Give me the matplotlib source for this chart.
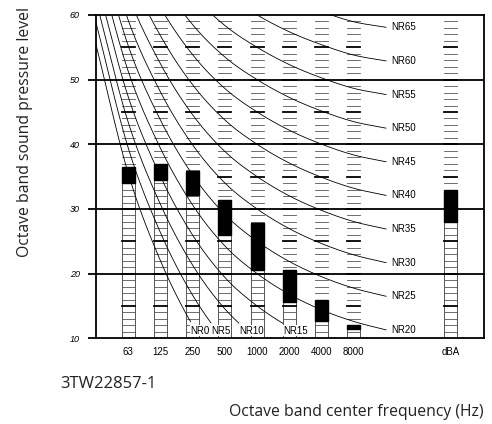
import numpy as np
import matplotlib.pyplot as plt

# Measured octave band levels (black blocks: lower and upper edge, dB)
bands = ['63', '125', '250', '500', '1000', '2000', '4000', '8000', 'dBA']
block_bottom = [34.0, 34.5, 32.2, 26.0, 20.5, 15.6, 12.7, 11.4, 28.0]
block_top = [36.5, 37.0, 35.8, 31.4, 27.9, 20.6, 15.9, 12.1, 32.9]

# NR curves, L = a + b * NR, bands 31.5 Hz ... 16 kHz
nr_a = [55.4, 35.5, 22.0, 12.0, 4.8, 0.0, -3.5, -6.1, -8.0, -9.5]
nr_b = [0.681, 0.790, 0.870, 0.930, 0.974, 1.000, 1.015, 1.025, 1.030, 1.040]
nr_levels = [0, 5, 10, 15, 20, 25, 30, 35, 40, 45, 50, 55, 60, 65]
nr_bottom_labels = [0, 5, 10, 15]

narrow = ['Liberation Sans', 'DejaVu Sans']
plt.rcParams['font.family'] = ['Open Sans', 'DejaVu Sans']

# octave bands on one slot each, dBA set apart after a gap
band_x = list(range(8)) + [10]
nr_x = np.arange(-1, 9)


def smooth(xp, yp, n=30):
    xp = np.asarray(xp, float)
    yp = np.asarray(yp, float)
    m = np.gradient(yp, xp)
    xs, ys = [], []
    for i in range(len(xp) - 1):
        h = xp[i + 1] - xp[i]
        t = np.linspace(0, 1, n, endpoint=False)
        h00 = 2 * t**3 - 3 * t**2 + 1
        h10 = t**3 - 2 * t**2 + t
        h01 = -2 * t**3 + 3 * t**2
        h11 = t**3 - t**2
        xs.append(xp[i] + t * h)
        ys.append(h00 * yp[i] + h10 * h * m[i] + h01 * yp[i + 1] + h11 * h * m[i + 1])
    xs.append([xp[-1]])
    ys.append([yp[-1]])
    return np.concatenate(xs), np.concatenate(ys)


fig = plt.figure(figsize=(4.92, 4.24), dpi=100)
ax = fig.add_axes([96 / 492, 1 - 338.3 / 424, 388 / 492, 323.3 / 424])
ax.set_xlim(-1.0, 11.04)
ax.set_ylim(10, 60)

bw = 0.2
for x, lo, hi in zip(band_x, block_bottom, block_top):
    # ladder below the block, dashes above it
    ax.plot([x - bw, x - bw], [10, lo], color='#555', lw=0.7, zorder=1)
    ax.plot([x + bw, x + bw], [10, lo], color='#555', lw=0.7, zorder=1)
    for lev in range(11, 60):
        if lo < lev < hi:
            continue
        bold = lev % 5 == 0
        ax.plot([x - bw, x + bw], [lev, lev], color='black' if bold else '#555',
                lw=1.3 if bold else 0.6, zorder=1)
    ax.add_patch(plt.Rectangle((x - bw, lo), 2 * bw, hi - lo, color='black', zorder=2))

for nr in nr_levels:
    yp = np.array(nr_a) + np.array(nr_b) * nr
    xs, ys = smooth(nr_x, yp)
    if nr in nr_bottom_labels:
        cut = np.argmax(ys < 12.3)
        xs, ys = xs[:cut], ys[:cut]
        ax.plot(xs, ys, color='black', lw=0.6, zorder=3)
        ax.text(xs[-1], 11.2, f'NR{nr}', family=narrow, fontsize=7, ha='left', va='center',
                zorder=5, bbox=dict(fc='white', ec='none', pad=0.3))
    else:
        ax.plot(xs, ys, color='black', lw=0.6, zorder=3)
        ax.text(xs[-1] + 0.15, ys[-1], f'NR{nr}', family=narrow, fontsize=7, ha='left',
                va='center', zorder=5, bbox=dict(fc='white', ec='none', pad=0.3))

for lev in range(20, 60, 10):
    ax.axhline(lev, color='black', lw=1.3, zorder=4)

for s in ax.spines.values():
    s.set_linewidth(1.3)
    s.set_zorder(6)

ax.set_xticks(band_x)
ax.set_xticklabels(bands, family=narrow, fontsize=7)
ax.tick_params(axis='x', length=0, pad=6)
ax.set_yticks(range(10, 70, 10))
ax.set_yticklabels([str(v) for v in range(10, 70, 10)], family=narrow, fontsize=6.5,
                   style='italic')
ax.tick_params(axis='y', length=5.8, width=1.3, pad=6)

fig.text(25 / 492, 1 - 132 / 424, 'Octave band sound pressure level', rotation=90,
         ha='center', va='center', fontsize=11.3, color='#222')
fig.text(60 / 492, 1 - 383.5 / 424, '3TW22857-1', ha='left', va='center',
         fontsize=12, color='#222')
fig.text(484 / 492, 1 - 411.5 / 424, 'Octave band center frequency (Hz)', ha='right',
         va='center', fontsize=11.3, color='#222')

fig.savefig('out.png', dpi=100)
